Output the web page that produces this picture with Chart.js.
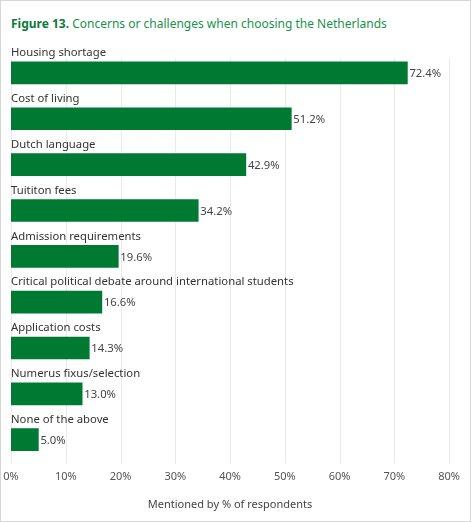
<!DOCTYPE html>
<html>
<head>
<meta charset="utf-8">
<script src="https://cdn.jsdelivr.net/npm/chart.js@4"></script>
<style>
    html, body { margin: 0; padding: 0; background: #fff; }
    #wrap {
        position: relative;
        width: 469px;
        height: 520px;
        border: 1px solid #d6d6d6;
        overflow: hidden;
    }
    #title {
        position: absolute;
        left: 10px;
        top: 14px;
        font-family: "Noto Sans", sans-serif;
        font-size: 12px;
        color: #17934a;
        white-space: nowrap;
    }
    #title b { color: #0b7a3b; }
    #chart { position: absolute; left: -1px; top: -1px; }
</style>
</head>
<body>
<div id="wrap">
    <div id="title"><b>Figure 13.</b> Concerns or challenges when choosing the Netherlands</div>
    <canvas id="chart" width="471" height="522"></canvas>
</div>
<script>
const categories = [
    "Housing shortage",
    "Cost of living",
    "Dutch language",
    "Tuititon fees",
    "Admission requirements",
    "Critical political debate around international students",
    "Application costs",
    "Numerus fixus/selection",
    "None of the above"
];
const percentages = [72.4, 51.2, 42.9, 34.2, 19.6, 16.6, 14.3, 13.0, 5.0];
const xTicks = [0, 10, 20, 30, 40, 50, 60, 70, 80];

const FONT = '"Noto Sans", sans-serif';

// gridlines start just under the first label, not at the chart top
const gridPlugin = {
    id: 'grid',
    beforeDatasetsDraw(chart) {
        const ctx = chart.ctx;
        const x = chart.scales.x;
        const area = chart.chartArea;
        ctx.save();
        ctx.strokeStyle = '#f0e8e4';
        ctx.lineWidth = 1;
        xTicks.forEach(v => {
            const px = Math.round(x.getPixelForValue(v)) + 0.5;
            ctx.beginPath();
            ctx.moveTo(px, area.top + 8);
            ctx.lineTo(px, area.bottom + 1);
            ctx.stroke();
        });
        ctx.restore();
    }
};

// category names above bars, values after bar ends
const labelPlugin = {
    id: 'labels',
    afterDatasetsDraw(chart) {
        const ctx = chart.ctx;
        const meta = chart.getDatasetMeta(0);
        ctx.save();
        ctx.font = '11.3px ' + FONT;
        ctx.textBaseline = 'middle';
        ctx.textAlign = 'left';
        meta.data.forEach((bar, i) => {
            ctx.fillStyle = '#333';
            ctx.fillText(categories[i], chart.chartArea.left, bar.y - 20);
            ctx.fillStyle = '#444';
            ctx.fillText(percentages[i].toFixed(1) + '%', bar.x + 2, bar.y + 1);
        });
        ctx.restore();
    }
};

new Chart(document.getElementById('chart'), {
    type: 'bar',
    data: {
        labels: categories,
        datasets: [{
            data: percentages,
            backgroundColor: '#007a33',
            barThickness: 22
        }]
    },
    options: {
        indexAxis: 'y',
        responsive: false,
        animation: false,
        layout: { padding: { left: 11, right: 22, top: 50, bottom: 11 } },
        plugins: {
            legend: { display: false },
            tooltip: { enabled: false }
        },
        scales: {
            x: {
                min: 0,
                max: 80,
                afterBuildTicks: axis => { axis.ticks = xTicks.map(v => ({ value: v })); },
                // keep the plot edge fixed, the tick labels may overhang
                afterFit: axis => { axis.paddingLeft = 0; axis.paddingRight = 0; },
                grid: { display: false, drawTicks: false },
                border: { display: false },
                ticks: {
                    color: '#555',
                    font: { family: FONT, size: 11 },
                    padding: 8,
                    callback: v => v + '%'
                },
                title: {
                    display: true,
                    text: 'Mentioned by % of respondents',
                    color: '#444',
                    font: { family: FONT, size: 11 },
                    padding: { top: 6, bottom: 0 }
                }
            },
            y: { display: false }
        }
    },
    plugins: [gridPlugin, labelPlugin]
});
</script>
</body>
</html>
